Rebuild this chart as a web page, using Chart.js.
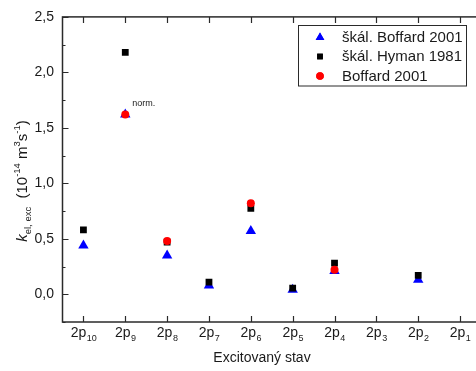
<!DOCTYPE html>
<html>
<head>
<meta charset="utf-8">
<script src="https://cdn.jsdelivr.net/npm/chart.js@4/dist/chart.umd.min.js"></script>
<style>
  html, body { margin: 0; padding: 0; overflow: hidden; background: #fff; }
  #wrap { width: 476px; height: 371px; overflow: hidden; }
  canvas { display: block; }
</style>
</head>
<body>
<div id="wrap"><canvas id="c" width="492" height="371"></canvas></div>
<script>
// Excited states of the 2p manifold (Paschen notation)
const states = ['2p10', '2p9', '2p8', '2p7', '2p6', '2p5', '2p4', '2p3', '2p2', '2p1'];

// Excitation rate coefficients k_el,exc in units of 1e-14 m^3 s^-1
const boffardScaled = [0.44, 1.62, 0.35, 0.08, 0.57, 0.04, 0.21, null, 0.13, null];
const hymanScaled   = [0.58, 2.18, 0.47, 0.11, 0.775, 0.055, 0.28, null, 0.17, null];
const boffard       = [null, 1.62, 0.48, null, 0.82, null, 0.22, null, null, null];

const seriesNames = ['škál. Boffard 2001', 'škál. Hyman 1981', 'Boffard 2001'];
const yMin = -0.25, yMax = 2.5;

const FONT = '"Liberation Sans", Arial, sans-serif';
const AXIS = '#2a2a2a';
const TEXT = '#1a1a1a';

function toPoints(arr) {
  return arr.map((v, i) => (v === null ? null : { x: i, y: v })).filter(p => p);
}

function isMajor(v) {
  return Math.abs(v * 2 - Math.round(v * 2)) < 1e-6;
}

const frame = {
  id: 'frame',
  afterDraw(chart) {
    const { ctx, chartArea: a, scales: { x, y } } = chart;
    ctx.save();
    ctx.strokeStyle = AXIS;
    ctx.lineWidth = 1.5;
    ctx.strokeRect(a.left, a.top, a.right - a.left, a.bottom - a.top);

    // inward tick marks
    ctx.lineWidth = 1.2;
    ctx.beginPath();
    states.forEach((s, i) => {
      const px = Math.round(x.getPixelForValue(i)) + 0.5;
      ctx.moveTo(px, a.bottom); ctx.lineTo(px, a.bottom - 6);
      ctx.moveTo(px, a.top); ctx.lineTo(px, a.top + 6);
    });
    y.ticks.forEach(t => {
      const py = Math.round(y.getPixelForValue(t.value)) + 0.5;
      const len = isMajor(t.value) ? 6 : 3;
      ctx.moveTo(a.left, py); ctx.lineTo(a.left + len, py);
      ctx.moveTo(a.right, py); ctx.lineTo(a.right - len + 1, py);
    });
    ctx.stroke();

    // category labels with subscripts
    ctx.fillStyle = TEXT;
    ctx.textAlign = 'left';
    ctx.textBaseline = 'alphabetic';
    states.forEach((s, i) => {
      const base = s.slice(0, 2), sub = s.slice(2);
      ctx.font = '14px ' + FONT;
      const wb = ctx.measureText(base).width;
      ctx.font = '9px ' + FONT;
      const ws = ctx.measureText(sub).width;
      const cx = x.getPixelForValue(i);
      const x0 = cx - (wb + ws) / 2;
      ctx.font = '14px ' + FONT;
      ctx.fillText(base, x0, 337);
      ctx.font = '9px ' + FONT;
      ctx.fillText(sub, x0 + wb + 0.5, 341);
    });

    // x-axis title
    ctx.font = '14px ' + FONT;
    ctx.textAlign = 'center';
    ctx.fillText('Excitovaný stav', 262, 362);

    // y-axis title, rotated, with sub/superscripts
    const parts = [
      { t: 'k', f: 'italic 15px ' + FONT, dy: 0 },
      { t: 'el, exc', f: '9.5px ' + FONT, dy: 3.5 },
      { t: '  (10', f: '15px ' + FONT, dy: 0 },
      { t: '-14', f: '9.5px ' + FONT, dy: -7.5 },
      { t: ' m', f: '15px ' + FONT, dy: 0 },
      { t: '3', f: '9.5px ' + FONT, dy: -7.5 },
      { t: 's', f: '15px ' + FONT, dy: 0 },
      { t: '-1', f: '9.5px ' + FONT, dy: -7.5 },
      { t: ')', f: '15px ' + FONT, dy: 0 }
    ];
    let total = 0;
    parts.forEach(p => { ctx.font = p.f; p.w = ctx.measureText(p.t).width; total += p.w; });
    ctx.save();
    ctx.translate(27, 181);
    ctx.rotate(-Math.PI / 2);
    ctx.textAlign = 'left';
    let cx = -total / 2;
    parts.forEach(p => { ctx.font = p.f; ctx.fillText(p.t, cx, p.dy); cx += p.w; });
    ctx.restore();

    // annotation next to the normalisation point
    ctx.font = '9px ' + FONT;
    ctx.textAlign = 'left';
    ctx.fillText('norm.', x.getPixelForValue(1) + 7, y.getPixelForValue(boffard[1]) - 9);

    // legend box
    const lx = 298, ly = 25.5, lw = 168, lh = 60.5;
    ctx.lineWidth = 1;
    ctx.strokeStyle = AXIS;
    ctx.fillStyle = '#fff';
    ctx.fillRect(lx, ly, lw, lh);
    ctx.strokeRect(lx + 0.5, ly, lw, lh);
    const rows = [37.5, 56.5, 76];
    chart.data.datasets.forEach((ds, i) => {
      ctx.fillStyle = ds.backgroundColor;
      ctx.beginPath();
      Chart.helpers.drawPoint(ctx, {
        pointStyle: ds.pointStyle, radius: ds.legendRadius, rotation: 0, borderWidth: 0
      }, 320, rows[i]);
      ctx.fill();
      ctx.fillStyle = TEXT;
      ctx.font = '15px ' + FONT;
      ctx.textBaseline = 'middle';
      ctx.fillText(ds.label, 342, rows[i] + 0.5);
    });
    ctx.restore();
  }
};

new Chart(document.getElementById('c'), {
  type: 'scatter',
  data: {
    datasets: [
      { label: seriesNames[0], data: toPoints(boffardScaled), pointStyle: 'triangle',
        pointRadius: 6, legendRadius: 5, backgroundColor: '#0000ff', borderColor: '#0000ff', borderWidth: 0, order: 2 },
      { label: seriesNames[1], data: toPoints(hymanScaled), pointStyle: 'rect',
        pointRadius: 4.8, legendRadius: 4, backgroundColor: '#000000', borderColor: '#000000', borderWidth: 0, order: 1 },
      { label: seriesNames[2], data: toPoints(boffard), pointStyle: 'circle',
        pointRadius: 4, legendRadius: 3.8, backgroundColor: '#ff0000', borderColor: '#ff0000', borderWidth: 0, order: 0 }
    ]
  },
  options: {
    responsive: false,
    animation: false,
    devicePixelRatio: 1,
    layout: { padding: { top: 14.5, right: 11, left: 0, bottom: 0 } },
    plugins: { legend: { display: false }, tooltip: { enabled: false } },
    scales: {
      x: {
        type: 'linear', min: -0.5, max: 9.5,
        grid: { display: false, drawTicks: false }, border: { display: false },
        ticks: { display: false },
        afterFit: s => { s.height = 49; }
      },
      y: {
        min: yMin, max: yMax,
        grid: { display: false, drawTicks: false }, border: { display: false },
        ticks: {
          stepSize: 0.25, autoSkip: false, padding: 8.5, color: TEXT,
          font: { family: FONT, size: 14 },
          callback: v => (v >= 0 && isMajor(v)) ? v.toFixed(1).replace('.', ',') : ''
        },
        afterFit: s => { s.width = 62.5; }
      }
    }
  },
  plugins: [frame]
});
</script>
</body>
</html>
